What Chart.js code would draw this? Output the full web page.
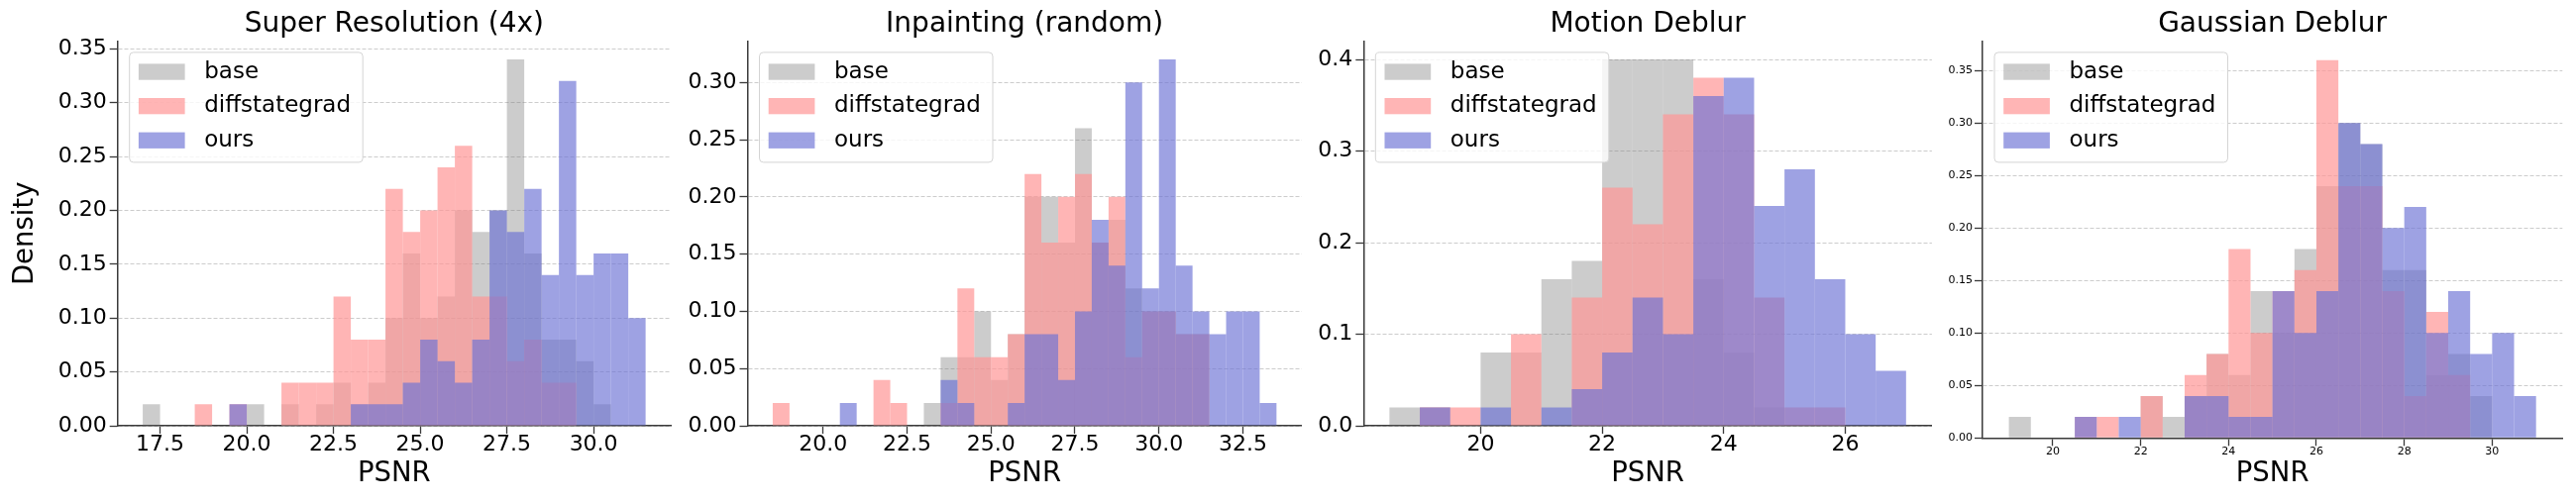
<!DOCTYPE html>
<html>
<head>
<title>PSNR histograms</title>
<script src="https://cdn.jsdelivr.net/npm/chart.js"></script>
<style>
body {
    margin: 0;
    background: #fff;
    width: 2600px;
    height: 509px;
    overflow: hidden;
    position: relative;
}
canvas {
    position: absolute;
    top: 0;
}
</style>
</head>
<body>
<canvas id="c1" width="690" height="509" style="left:0px"></canvas>
<canvas id="c2" width="635" height="509" style="left:690px"></canvas>
<canvas id="c3" width="640" height="509" style="left:1325px"></canvas>
<canvas id="c4" width="640" height="509" style="left:1960px"></canvas>

<script>
const seriesNames = ['base', 'diffstategrad', 'ours'];
const seriesColors = ['rgba(128,128,128,0.4)', 'rgba(255,150,150,0.7)', 'rgba(108,114,212,0.66)'];
const binWidth = 0.5;

// Super Resolution (4x) - left bin edges and densities
const srBins = [17.0, 17.5, 18.0, 18.5, 19.0, 19.5, 20.0, 20.5, 21.0, 21.5, 22.0, 22.5, 23.0, 23.5, 24.0,
                24.5, 25.0, 25.5, 26.0, 26.5, 27.0, 27.5, 28.0, 28.5, 29.0, 29.5, 30.0, 30.5, 31.0];
const srBase = [0.02, 0, 0, 0, 0, 0, 0.02, 0, 0.02, 0, 0.02, 0.04, 0.02, 0.04, 0.10,
                0.16, 0.10, 0.12, 0.20, 0.18, 0.20, 0.34, 0.16, 0.08, 0.08, 0.06, 0.02, 0, 0];
const srDiff = [0, 0, 0, 0.02, 0, 0.02, 0, 0, 0.04, 0.04, 0.04, 0.12, 0.08, 0.08, 0.22,
                0.18, 0.20, 0.24, 0.26, 0.12, 0.12, 0.06, 0.08, 0.04, 0.04, 0, 0, 0, 0];
const srOurs = [0, 0, 0, 0, 0, 0.02, 0, 0, 0, 0, 0, 0, 0.02, 0.02, 0.02,
                0.04, 0.08, 0.06, 0.04, 0.08, 0.20, 0.18, 0.22, 0.14, 0.32, 0.14, 0.16, 0.16, 0.10];
const srXTicks = [17.5, 20.0, 22.5, 25.0, 27.5, 30.0];
const srYTicks = [0, 0.05, 0.10, 0.15, 0.20, 0.25, 0.30, 0.35];

// Inpainting (random)
const ipBins = [18.5, 19.0, 19.5, 20.0, 20.5, 21.0, 21.5, 22.0, 22.5, 23.0, 23.5, 24.0, 24.5, 25.0, 25.5,
                26.0, 26.5, 27.0, 27.5, 28.0, 28.5, 29.0, 29.5, 30.0, 30.5, 31.0, 31.5, 32.0, 32.5, 33.0];
const ipBase = [0, 0, 0, 0, 0, 0, 0, 0, 0, 0.02, 0.06, 0.06, 0.10, 0.04, 0.08,
                0.20, 0.20, 0.16, 0.26, 0.16, 0.18, 0.12, 0.10, 0.10, 0.08, 0.08, 0, 0, 0, 0];
const ipDiff = [0.02, 0, 0, 0, 0, 0, 0.04, 0.02, 0, 0, 0.02, 0.12, 0.06, 0.06, 0.08,
                0.22, 0.16, 0.20, 0.22, 0.16, 0.20, 0.06, 0.10, 0.10, 0.08, 0.08, 0, 0, 0, 0];
const ipOurs = [0, 0, 0, 0, 0.02, 0, 0, 0, 0, 0, 0.04, 0.02, 0, 0, 0.02,
                0.08, 0.08, 0.04, 0.10, 0.18, 0.14, 0.30, 0.12, 0.32, 0.14, 0.10, 0.08, 0.10, 0.10, 0.02];
const ipXTicks = [20.0, 22.5, 25.0, 27.5, 30.0, 32.5];
const ipYTicks = [0, 0.05, 0.10, 0.15, 0.20, 0.25, 0.30];

// Motion Deblur
const mdBins = [18.5, 19.0, 19.5, 20.0, 20.5, 21.0, 21.5, 22.0, 22.5, 23.0, 23.5, 24.0, 24.5, 25.0, 25.5, 26.0, 26.5];
const mdBase = [0.02, 0.02, 0, 0.08, 0.08, 0.16, 0.18, 0.40, 0.40, 0.40, 0.16, 0.08, 0.02, 0, 0, 0, 0];
const mdDiff = [0, 0.02, 0.02, 0, 0.10, 0, 0.14, 0.26, 0.22, 0.34, 0.38, 0.34, 0.14, 0.02, 0.02, 0, 0];
const mdOurs = [0, 0.02, 0, 0.02, 0, 0.02, 0.04, 0.08, 0.14, 0.10, 0.36, 0.38, 0.24, 0.28, 0.16, 0.10, 0.06];
const mdXTicks = [20, 22, 24, 26];
const mdYTicks = [0, 0.1, 0.2, 0.3, 0.4];

// Gaussian Deblur
const gdBins = [19.0, 19.5, 20.0, 20.5, 21.0, 21.5, 22.0, 22.5, 23.0, 23.5, 24.0, 24.5,
                25.0, 25.5, 26.0, 26.5, 27.0, 27.5, 28.0, 28.5, 29.0, 29.5, 30.0, 30.5];
const gdBase = [0.02, 0, 0, 0, 0, 0, 0.04, 0.02, 0.04, 0.08, 0.06, 0.14,
                0.10, 0.18, 0.24, 0.30, 0.28, 0.16, 0.16, 0.06, 0.08, 0.04, 0, 0];
const gdDiff = [0, 0, 0, 0.02, 0.02, 0, 0.04, 0, 0.06, 0.08, 0.18, 0.10,
                0.14, 0.16, 0.36, 0.24, 0.24, 0.14, 0.04, 0.12, 0.06, 0, 0, 0];
const gdOurs = [0, 0, 0, 0.02, 0, 0.02, 0, 0, 0.04, 0.04, 0.02, 0.02,
                0.14, 0.10, 0.14, 0.30, 0.28, 0.20, 0.22, 0.10, 0.14, 0.08, 0.10, 0.04];
const gdXTicks = [20, 22, 24, 26, 28, 30];
const gdYTicks = [0, 0.05, 0.10, 0.15, 0.20, 0.25, 0.30, 0.35];

const FONT = "'DejaVu Sans', sans-serif";
Chart.defaults.font.family = FONT;
Chart.defaults.color = '#000';

const AXIS = '#3a3a3a';

// legend drawn inside the plot, upper left, with a frame
const boxLegend = {
    id: 'boxLegend',
    afterDatasetsDraw(chart) {
        const ctx = chart.ctx;
        const a = chart.chartArea;
        const x0 = a.left + 12, y0 = a.top + 11.3, w = 235.5, h = 111, r = 4;
        ctx.save();
        ctx.beginPath();
        ctx.moveTo(x0 + r, y0);
        ctx.lineTo(x0 + w - r, y0);
        ctx.arcTo(x0 + w, y0, x0 + w, y0 + r, r);
        ctx.lineTo(x0 + w, y0 + h - r);
        ctx.arcTo(x0 + w, y0 + h, x0 + w - r, y0 + h, r);
        ctx.lineTo(x0 + r, y0 + h);
        ctx.arcTo(x0, y0 + h, x0, y0 + h - r, r);
        ctx.lineTo(x0, y0 + r);
        ctx.arcTo(x0, y0, x0 + r, y0, r);
        ctx.closePath();
        ctx.fillStyle = 'rgba(255,255,255,0.8)';
        ctx.fill();
        ctx.strokeStyle = '#d4d4d4';
        ctx.lineWidth = 1;
        ctx.stroke();
        ctx.font = '23px ' + FONT;
        ctx.textBaseline = 'middle';
        chart.data.datasets.forEach((ds, i) => {
            const cy = y0 + 19.7 + i * 34.6;
            ctx.fillStyle = ds.backgroundColor;
            ctx.fillRect(x0 + 9.2, cy - 8.2, 46.7, 16.3);
            ctx.fillStyle = '#000';
            ctx.fillText(ds.label, x0 + 75.5, cy);
        });
        ctx.restore();
    }
};

const panels = [
    {id: 'c1', title: 'Super Resolution (4x)', bins: srBins, values: [srBase, srDiff, srOurs],
     xTicks: srXTicks, yTicks: srYTicks, xDec: 1, yDec: 2, yLabel: 'Density',
     width: 690, axisLeft: 118.7, axisRight: 677, bottom: 430, tickSize: 22},
    {id: 'c2', title: 'Inpainting (random)', bins: ipBins, values: [ipBase, ipDiff, ipOurs],
     xTicks: ipXTicks, yTicks: ipYTicks, xDec: 1, yDec: 2,
     width: 635, axisLeft: 64.5, axisRight: 623.8, bottom: 430, tickSize: 22},
    {id: 'c3', title: 'Motion Deblur', bins: mdBins, values: [mdBase, mdDiff, mdOurs],
     xTicks: mdXTicks, yTicks: mdYTicks, xDec: 0, yDec: 1,
     width: 640, axisLeft: 51.3, axisRight: 624.9, bottom: 430, tickSize: 22},
    {id: 'c4', title: 'Gaussian Deblur', bins: gdBins, values: [gdBase, gdDiff, gdOurs],
     xTicks: gdXTicks, yTicks: gdYTicks, xDec: 0, yDec: 2,
     width: 640, axisLeft: 41, axisRight: 626.3, bottom: 442.3, tickSize: 11}
];

function makePanel(p) {
    const lo = p.bins[0];
    const hi = p.bins[p.bins.length - 1] + binWidth;
    const margin = (hi - lo) * 0.05;
    const peak = Math.max(...p.values.flat());
    const small = p.tickSize < 15;

    new Chart(document.getElementById(p.id).getContext('2d'), {
        type: 'bar',
        data: {
            // later series are painted on top, like the original overlapping histograms
            datasets: p.values.map((vals, k) => ({
                label: seriesNames[k],
                data: p.bins.map((b, i) => ({x: b + binWidth / 2, y: vals[i]})),
                backgroundColor: seriesColors[k],
                order: seriesNames.length - k,
                borderWidth: 0,
                inflateAmount: 0,
                barPercentage: 1,
                categoryPercentage: 1,
                grouped: false
            }))
        },
        options: {
            responsive: false,
            animation: false,
            devicePixelRatio: 1,
            layout: {padding: {left: 0, top: 0, bottom: 0, right: p.width - p.axisRight}},
            plugins: {
                legend: {display: false},
                tooltip: {enabled: false},
                title: {
                    display: true,
                    text: p.title,
                    fullSize: false,
                    color: '#000',
                    font: {size: 28, weight: 'normal'},
                    padding: {top: 8, bottom: 0}
                }
            },
            scales: {
                x: {
                    type: 'linear',
                    offset: false,
                    min: lo - margin,
                    max: hi + margin,
                    afterFit: s => { s.height = 509 - p.bottom; },
                    afterBuildTicks: s => { s.ticks = p.xTicks.map(v => ({value: v})); },
                    ticks: {
                        autoSkip: false,
                        maxRotation: 0,
                        padding: small ? 0 : 3,
                        color: '#000',
                        font: {size: p.tickSize, lineHeight: small ? 1 : 0.75},
                        callback: v => Number(v).toFixed(p.xDec)
                    },
                    grid: {offset: false, drawOnChartArea: false, drawTicks: true, tickLength: 8, tickColor: AXIS, tickWidth: 1.3},
                    border: {display: true, color: AXIS, width: 1.5},
                    title: {display: true, text: 'PSNR', color: '#000', font: {size: 27.5}, padding: {top: 0, bottom: 14}}
                },
                y: {
                    min: 0,
                    max: peak * 1.05,
                    afterFit: s => { s.width = p.axisLeft; },
                    afterBuildTicks: s => { s.ticks = p.yTicks.map(v => ({value: v})); },
                    ticks: {
                        padding: small ? 2 : 3,
                        color: '#000',
                        font: {size: p.tickSize},
                        callback: v => Number(v).toFixed(p.yDec)
                    },
                    grid: {color: '#cccccc', lineWidth: 1, tickLength: 8, tickColor: AXIS, tickWidth: 1.3},
                    border: {display: true, color: AXIS, width: 1.5, dash: [4, 2]},
                    title: p.yLabel
                        ? {display: true, text: p.yLabel, color: '#000', font: {size: 27.5}, padding: {top: 9.5, bottom: 0}}
                        : {display: false}
                }
            }
        },
        plugins: [boxLegend]
    });
}

panels.forEach(makePanel);
</script>
</body>
</html>
